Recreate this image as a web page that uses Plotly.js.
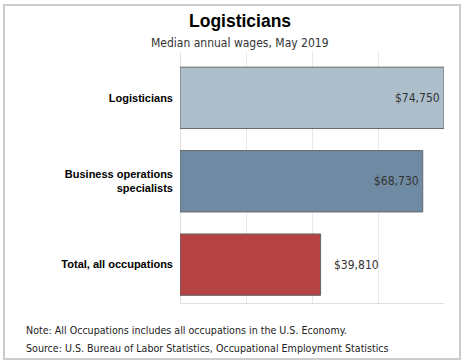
<!DOCTYPE html>
<html><head><meta charset="utf-8">
<script src="https://cdn.plot.ly/plotly-3.0.1.min.js"></script>
<style>html,body{margin:0;padding:0;background:#fff}#chart{width:462px;height:363px}</style>
</head><body><div id="chart"></div>
<script>
const categories = ["Total, all occupations", "Business operations specialists", "Logisticians"];
const tickLabels = ["Total, all occupations", "Business operations<br>specialists", "Logisticians"];
const wages = [39810, 68730, 74750];
const valueLabels = ["$39,810", "$68,730", "$74,750"];
const barColors = ["#b54343", "#6f8ba3", "#adbfcb"];
const labelInside = [false, true, true];

const trace = {
  type: "bar", orientation: "h",
  x: wages, y: categories,
  marker: {color: barColors, line: {color: "#666666", width: 1}},
  hoverinfo: "none"
};

function py(pix) { return (303 - pix) / 251; }
function px(pix) { return (pix - 180) / 264; }

const annotations = wages.map((v, i) => ({
  x: v, y: categories[i], xref: "x", yref: "y",
  text: valueLabels[i], showarrow: false,
  xanchor: labelInside[i] ? "right" : "left",
  xshift: labelInside[i] ? -2 : 11, yshift: 0,
  font: {family: "DejaVu Sans Condensed, Liberation Sans, sans-serif", size: 12, color: "#333333"}
}));
annotations.push({
  xref: "paper", yref: "paper", x: px(239.5), y: py(21),
  text: "<b>Logisticians</b>", showarrow: false, xanchor: "center", yanchor: "middle",
  font: {family: "Liberation Sans, Arial, sans-serif", size: 17.5, color: "#000"}
});
annotations.push({
  xref: "paper", yref: "paper", x: px(239.5), y: py(43),
  text: "Median annual wages, May 2019", showarrow: false, xanchor: "center", yanchor: "middle",
  font: {family: "DejaVu Sans Condensed, Liberation Sans, sans-serif", size: 12, color: "#333"}
});
annotations.push({
  xref: "paper", yref: "paper", x: px(24), y: py(330),
  text: "Note: All Occupations includes all occupations in the U.S. Economy.", showarrow: false, xanchor: "left", yanchor: "middle",
  font: {family: "DejaVu Sans Condensed, Liberation Sans, sans-serif", size: 10.6, color: "#222"}
});
annotations.push({
  xref: "paper", yref: "paper", x: px(24), y: py(348),
  text: "Source: U.S. Bureau of Labor Statistics, Occupational Employment Statistics", showarrow: false, xanchor: "left", yanchor: "middle",
  font: {family: "DejaVu Sans Condensed, Liberation Sans, sans-serif", size: 10.6, color: "#222"}
});

const layout = {
  width: 462, height: 363,
  margin: {l: 180, r: 18, t: 52, b: 60},
  paper_bgcolor: "#fff", plot_bgcolor: "#fff",
  showlegend: false, bargap: 0.264,
  xaxis: {range: [0, 74750], tick0: 0, dtick: 18687.5, showticklabels: false,
          showgrid: true, gridcolor: "#e8e8e8", zeroline: true, zerolinecolor: "#e0e0e0",
          showline: true, linecolor: "#e0e0e0", ticks: "", fixedrange: true},
  yaxis: {type: "category", range: [-0.46, 2.55], tickmode: "array", tickvals: categories, ticktext: tickLabels,
          ticks: "", ticklabelstandoff: 6, showgrid: false, zeroline: false, showline: false,
          tickfont: {family: "Liberation Sans, Arial, sans-serif", size: 11, color: "#000", weight: "bold"}},
  annotations: annotations,
  shapes: [{type: "rect", xref: "paper", yref: "paper", x0: px(4), x1: px(460), y0: py(5), y1: py(359),
            line: {color: "#cccccc", width: 2}, layer: "below"}]
};
Plotly.newPlot("chart", [trace], layout, {staticPlot: true, displayModeBar: false});
</script></body></html>
